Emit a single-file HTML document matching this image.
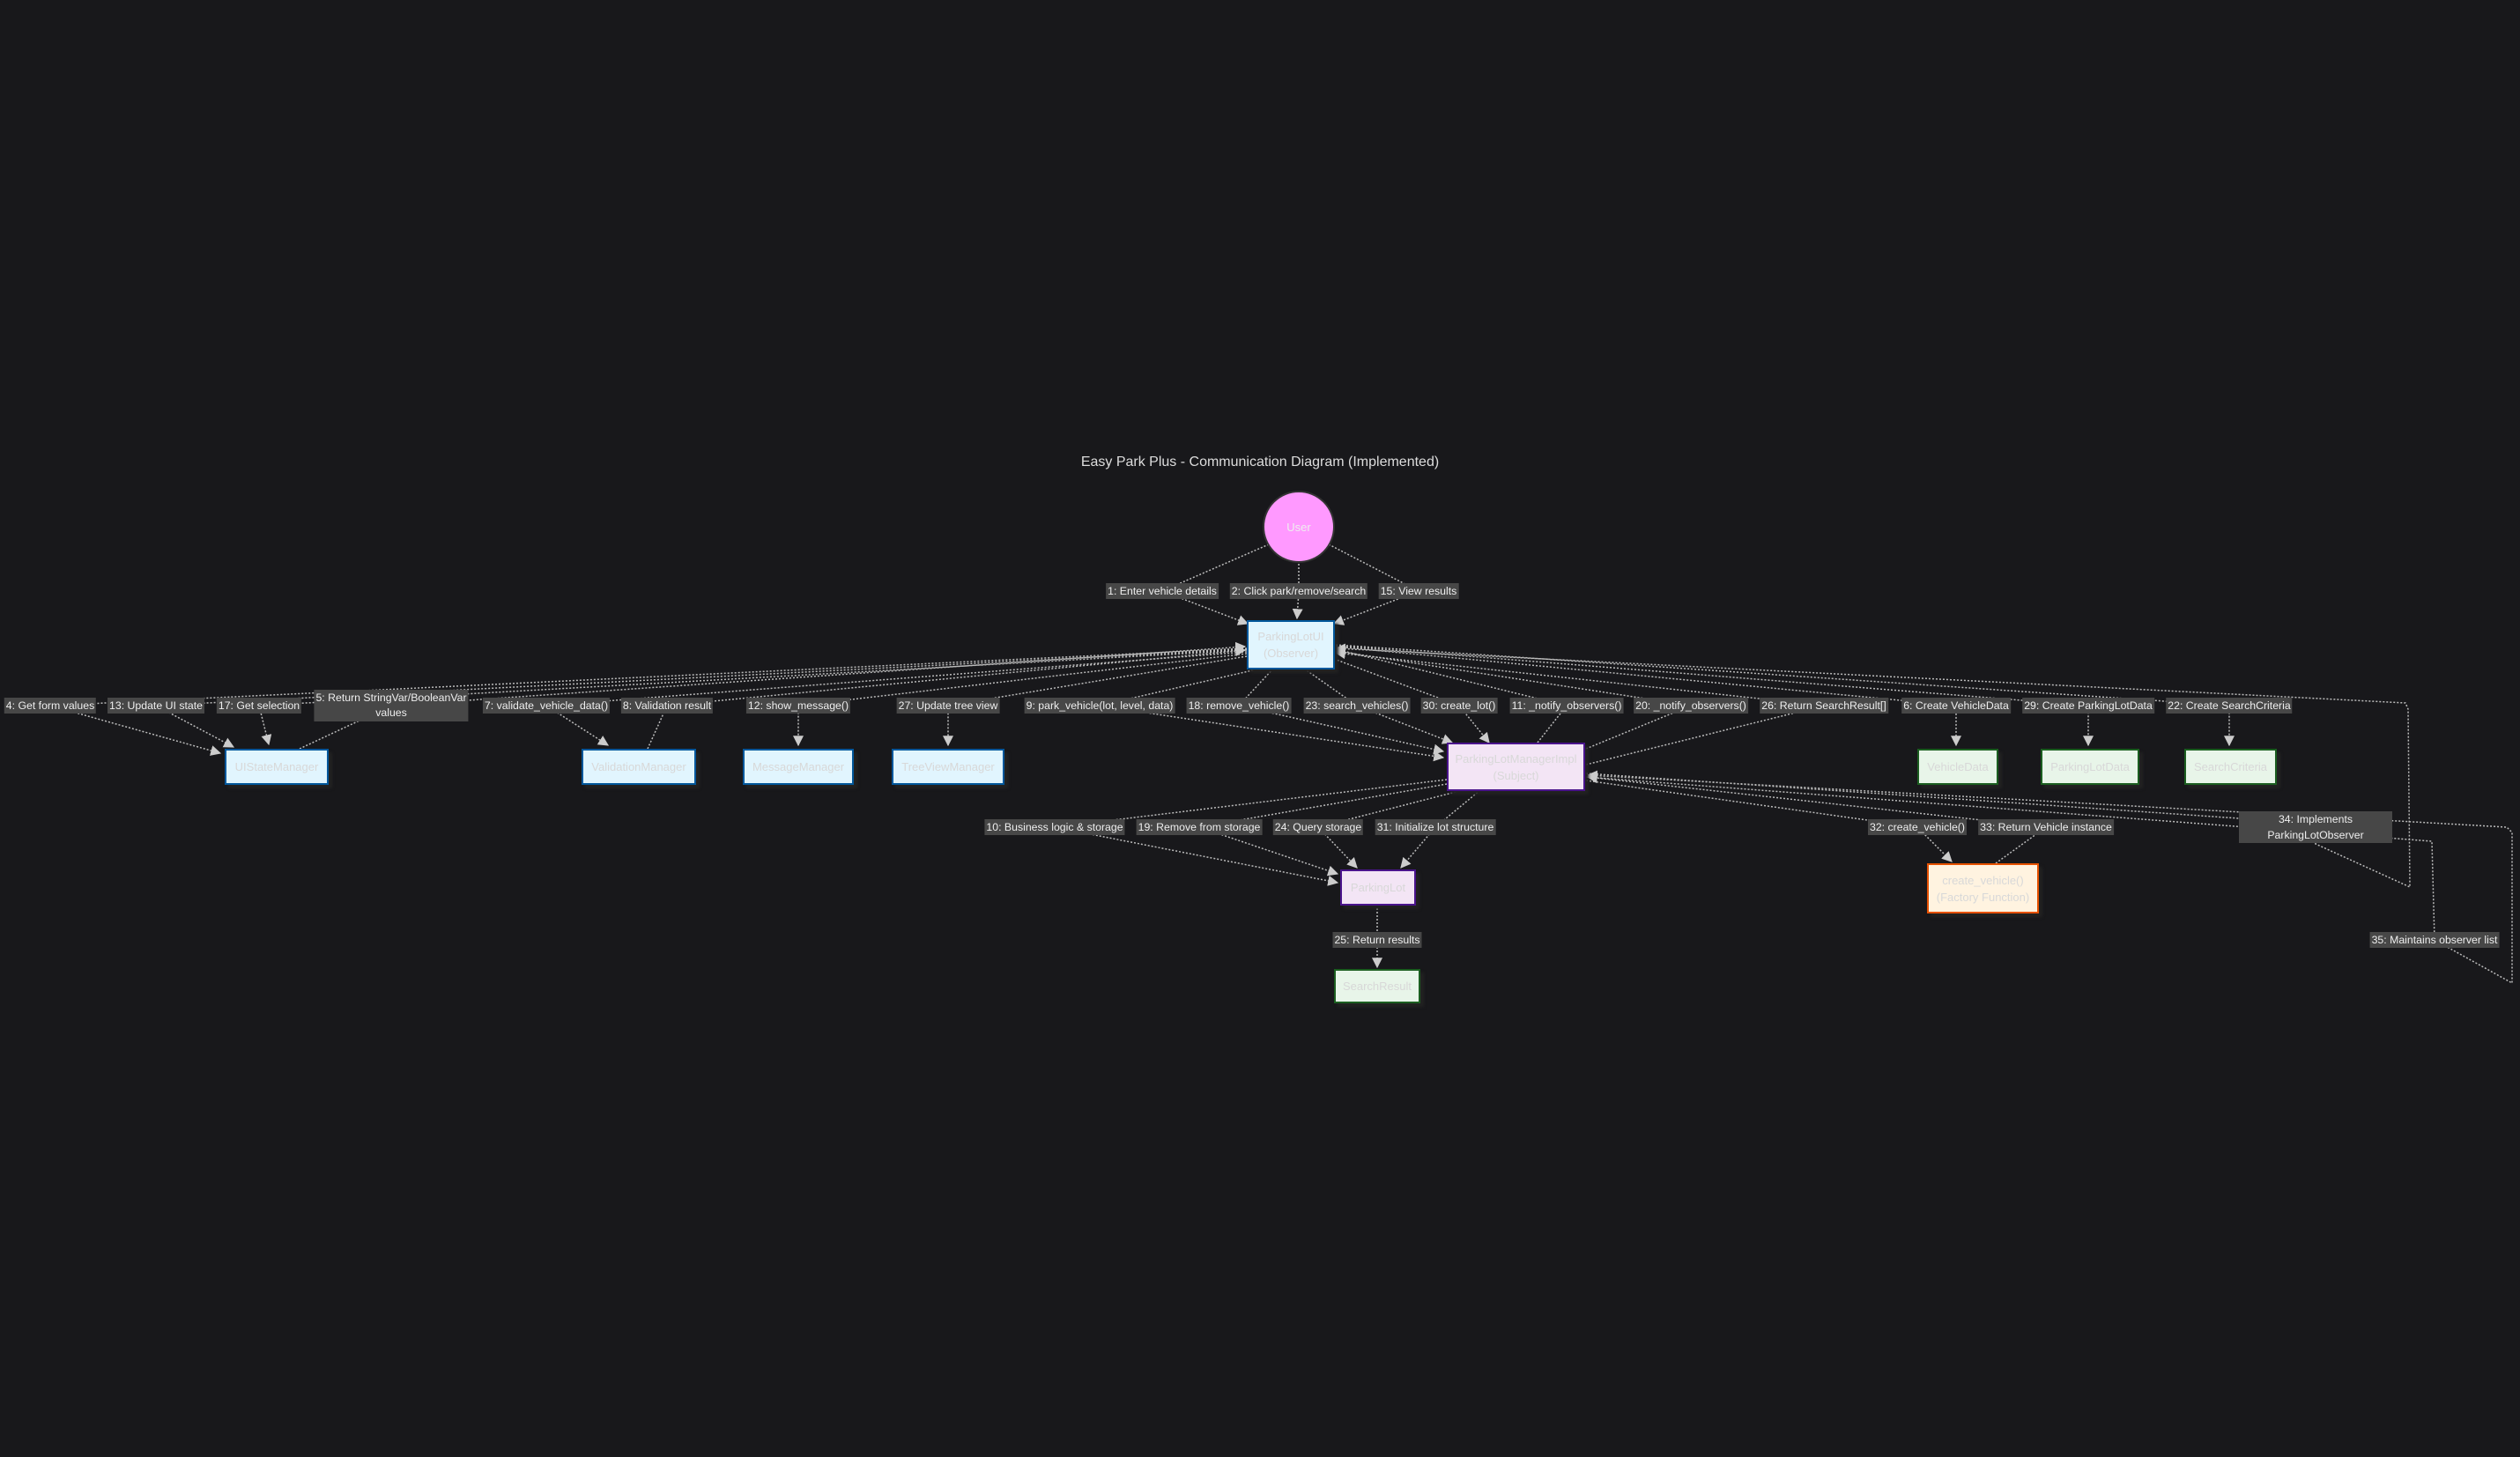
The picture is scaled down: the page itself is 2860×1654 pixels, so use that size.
<!DOCTYPE html>
<html><head><meta charset="utf-8"><style>
body{margin:0;background:#18181b;}
#c{position:relative;width:2860px;height:1654px;overflow:hidden;background:#18181b;font-family:"Liberation Sans",sans-serif;}
svg{position:absolute;left:0;top:0;}
.l{position:absolute;transform:translate(-50%,-50%);background:#474747;color:#eee;font-size:12.3px;line-height:18px;padding:0 2px;white-space:nowrap;text-align:center;}
.n{position:absolute;box-sizing:border-box;display:flex;align-items:center;justify-content:center;text-align:center;font-size:13px;line-height:19px;color:#d8d8d8;box-shadow:4px 4px 3px #222;}
.b{background:#e1f5fe;border:2px solid #01579b;}
.p{background:#f3e5f5;border:2px solid #4a148c;}
.g{background:#e8f5e9;border:2px solid #1b5e20;}
.o{background:#fff3e0;border:2px solid #e65100;}
</style></head><body><div id="c">
<svg width="2860" height="1654" viewBox="0 0 2860 1654">
<defs><marker id="a" viewBox="0 0 10 10" refX="9" refY="5" markerWidth="8" markerHeight="8" orient="auto-start-reverse"><path d="M0,0L10,5L0,10z" fill="#ccc"/></marker></defs>
<g fill="none" stroke="#bbb" stroke-width="1.5" stroke-dasharray="2,2" marker-end="url(#a)">
<path d="M1440,618 L1319,671 L1416,708"/>
<path d="M1474,640 L1474,671 L1472,702"/>
<path d="M1508,618 L1610,671 L1514,708"/>
<path d="M1415,736 L57,801 L250,855"/>
<path d="M1415,737 L177,801 L265,848"/>
<path d="M1415,738 L294,801 L305,845"/>
<path d="M340,850 L444,801 L1413,734"/>
<path d="M1415,740 L620,801 L690,846"/>
<path d="M735,850 L757,801 L1413,738"/>
<path d="M1415,742 L906,801 L906,846"/>
<path d="M1415,745 L1076,801 L1076,846"/>
<path d="M1430,759 L1248,801 L1638,860"/>
<path d="M1445,759 L1406,801 L1638,853"/>
<path d="M1480,759 L1540,801 L1648,843"/>
<path d="M1514,748 L1656,801 L1690,843"/>
<path d="M1745,843 L1778,801 L1516,737"/>
<path d="M1800,850 L1919,801 L1516,739"/>
<path d="M1800,868 L2070,801 L1516,741"/>
<path d="M1516,734 L2220,801 L2220,846"/>
<path d="M1516,733 L2370,801 L2370,846"/>
<path d="M1516,732 L2530,801 L2530,846"/>
<path d="M1800,878 L2628,935 L2628,958 L2735,1007 L2733,805 L2730,798 L1516,736"/>
<path d="M1800,882 L2760,955 L2763,1067 L2851,1116 L2851,945 L2845,939 L1802,880"/>
<path d="M1642,885 L1197,939 L1518,1002"/>
<path d="M1642,890 L1361,939 L1518,992"/>
<path d="M1660,897 L1496,939 L1540,985"/>
<path d="M1680,897 L1629,939 L1590,985"/>
<path d="M1800,886 L2176,939 L2215,978"/>
<path d="M2265,980 L2322,939 L1802,882"/>
<path d="M1563,1027 L1563,1067 L1563,1098"/>
</g>
<circle cx="1474" cy="598" r="40" fill="#ff99ff" stroke="#333" stroke-width="2"/>
<text x="1474" y="603" fill="#eee" font-size="13" text-anchor="middle" font-family="Liberation Sans">User</text>
<text x="1430" y="529" fill="#ddd" font-size="16" text-anchor="middle" font-family="Liberation Sans">Easy Park Plus - Communication Diagram (Implemented)</text>
</svg>
<div class="n b" style="left:1415px;top:704px;width:100px;height:56px">ParkingLotUI<br>(Observer)</div>
<div class="n b" style="left:255px;top:850px;width:118px;height:41px">UIStateManager</div>
<div class="n b" style="left:660px;top:850px;width:130px;height:41px">ValidationManager</div>
<div class="n b" style="left:843px;top:850px;width:126px;height:41px">MessageManager</div>
<div class="n b" style="left:1012px;top:850px;width:128px;height:41px">TreeViewManager</div>
<div class="n p" style="left:1642px;top:843px;width:157px;height:55px">ParkingLotManagerImpl<br>(Subject)</div>
<div class="n g" style="left:2176px;top:850px;width:92px;height:41px">VehicleData</div>
<div class="n g" style="left:2316px;top:850px;width:112px;height:41px">ParkingLotData</div>
<div class="n g" style="left:2479px;top:850px;width:105px;height:41px">SearchCriteria</div>
<div class="n p" style="left:1521px;top:987px;width:86px;height:41px">ParkingLot</div>
<div class="n o" style="left:2187px;top:980px;width:127px;height:57px">create_vehicle()<br>(Factory Function)</div>
<div class="n g" style="left:1514px;top:1100px;width:98px;height:39px">SearchResult</div>

<div class="l" style="left:1319px;top:671px">1: Enter vehicle details</div>
<div class="l" style="left:1474px;top:671px">2: Click park/remove/search</div>
<div class="l" style="left:1610px;top:671px">15: View results</div>
<div class="l" style="left:57px;top:801px">4: Get form values</div>
<div class="l" style="left:177px;top:801px">13: Update UI state</div>
<div class="l" style="left:294px;top:801px">17: Get selection</div>
<div class="l" style="left:444px;top:801px;line-height:17px;padding:1px 2px">5: Return StringVar/BooleanVar<br>values</div>
<div class="l" style="left:620px;top:801px">7: validate_vehicle_data()</div>
<div class="l" style="left:757px;top:801px">8: Validation result</div>
<div class="l" style="left:906px;top:801px">12: show_message()</div>
<div class="l" style="left:1076px;top:801px">27: Update tree view</div>
<div class="l" style="left:1248px;top:801px">9: park_vehicle(lot, level, data)</div>
<div class="l" style="left:1406px;top:801px">18: remove_vehicle()</div>
<div class="l" style="left:1540px;top:801px">23: search_vehicles()</div>
<div class="l" style="left:1656px;top:801px">30: create_lot()</div>
<div class="l" style="left:1778px;top:801px">11: _notify_observers()</div>
<div class="l" style="left:1919px;top:801px">20: _notify_observers()</div>
<div class="l" style="left:2070px;top:801px">26: Return SearchResult[]</div>
<div class="l" style="left:2220px;top:801px">6: Create VehicleData</div>
<div class="l" style="left:2370px;top:801px">29: Create ParkingLotData</div>
<div class="l" style="left:2530px;top:801px">22: Create SearchCriteria</div>
<div class="l" style="left:1197px;top:939px">10: Business logic &amp; storage</div>
<div class="l" style="left:1361px;top:939px">19: Remove from storage</div>
<div class="l" style="left:1496px;top:939px">24: Query storage</div>
<div class="l" style="left:1629px;top:939px">31: Initialize lot structure</div>
<div class="l" style="left:2176px;top:939px">32: create_vehicle()</div>
<div class="l" style="left:2322px;top:939px">33: Return Vehicle instance</div>
<div class="l" style="left:2628px;top:939px;width:170px;padding:0 2px;line-height:18px">34: Implements<br>ParkingLotObserver</div>
<div class="l" style="left:1563px;top:1067px">25: Return results</div>
<div class="l" style="left:2763px;top:1067px">35: Maintains observer list</div>
</div></body></html>
